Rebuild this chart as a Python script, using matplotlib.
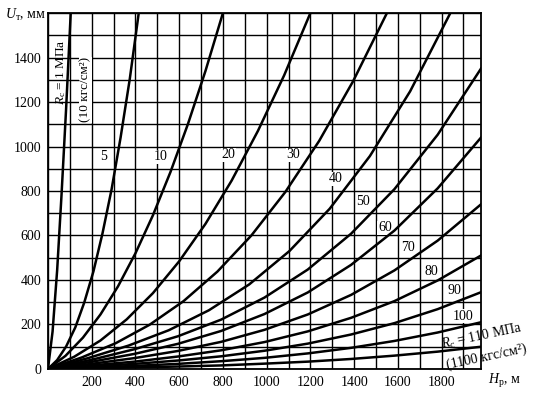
import matplotlib
matplotlib.use('Agg')
import matplotlib.pyplot as plt
from matplotlib.ticker import MultipleLocator, FuncFormatter

# values: H_p (m) -> U (mm) for every R_c curve
h_r1 = [0, 21, 42, 62, 83, 104]
u_r1 = [0, 168, 444, 783, 1171, 1600]

h_r5 = [0, 42, 83, 125, 166, 208, 249, 291, 332, 374, 415]
u_r5 = [0, 40, 101, 187, 299, 439, 608, 808, 1040, 1303, 1600]

h_r10 = [0, 80, 160, 240, 320, 400, 480, 560, 640, 720, 800]
u_r10 = [0, 59, 141, 245, 371, 520, 691, 885, 1101, 1339, 1600]

h_r20 = [0, 120, 240, 360, 480, 600, 720, 840, 960, 1080, 1200]
u_r20 = [0, 55, 128, 223, 341, 484, 652, 847, 1070, 1320, 1600]

h_r30 = [0, 155, 310, 465, 620, 775, 930, 1085, 1240, 1395, 1550]
u_r30 = [0, 52, 116, 199, 305, 438, 600, 795, 1025, 1293, 1600]

h_r40 = [0, 184, 368, 552, 736, 920, 1104, 1288, 1472, 1656, 1840]
u_r40 = [0, 49, 105, 174, 264, 380, 530, 720, 957, 1248, 1600]

h_edge = [0, 198, 396, 594, 792, 990, 1188, 1386, 1584, 1782, 1980]
u_r50 = [0, 41, 89, 147, 222, 321, 447, 608, 808, 1053, 1350]
u_r60 = [0, 32, 68, 113, 171, 247, 344, 468, 622, 812, 1040]
u_r70 = [0, 23, 49, 81, 122, 176, 245, 333, 443, 577, 740]
u_r80 = [0, 16, 33, 56, 84, 121, 169, 230, 305, 398, 510]
u_r90 = [0, 11, 23, 38, 57, 82, 114, 155, 206, 269, 345]
u_r100 = [0, 6, 14, 23, 35, 50, 70, 95, 126, 164, 210]
u_r110 = [0, 3, 7, 11, 16, 24, 33, 45, 60, 78, 100]

curves = [(h_r1, u_r1), (h_r5, u_r5), (h_r10, u_r10), (h_r20, u_r20),
          (h_r30, u_r30), (h_r40, u_r40), (h_edge, u_r50), (h_edge, u_r60),
          (h_edge, u_r70), (h_edge, u_r80), (h_edge, u_r90), (h_edge, u_r100),
          (h_edge, u_r110)]

curve_labels = ['5', '10', '20', '30', '40', '50', '60', '70', '80', '90', '100']

plt.rcParams['font.family'] = ['Liberation Serif', 'DejaVu Serif']
plt.rcParams['mathtext.fontset'] = 'custom'
plt.rcParams['mathtext.rm'] = 'Liberation Serif'
plt.rcParams['mathtext.it'] = 'Liberation Serif:italic'

fig = plt.figure(figsize=(5.33, 3.98), dpi=100)
ax = fig.add_axes([0.090, 0.0729, 0.8124, 0.8944])

for h, u in curves:
    ax.plot(h, u, color='black', lw=1.8, zorder=3)

ax.set_xlim(0, 1980)
ax.set_ylim(0, 1600)
ax.xaxis.set_major_locator(MultipleLocator(100))
ax.yaxis.set_major_locator(MultipleLocator(100))
ax.xaxis.set_major_formatter(FuncFormatter(
    lambda v, p: '%d' % v if v % 200 == 0 and 200 <= v <= 1800 else ''))
ax.yaxis.set_major_formatter(FuncFormatter(
    lambda v, p: '%d' % v if v % 200 == 0 and v <= 1400 else ''))
ax.grid(True, color='black', lw=1.0)
ax.set_axisbelow(True)
ax.tick_params(length=0, labelsize=10, pad=5)
for s in ax.spines.values():
    s.set_linewidth(1.3)
    s.set_color('black')
    s.set_zorder(4)

# curve labels (placed left of / above each curve)
label_pos = [(252, 953), (515, 953), (825, 962), (1120, 962), (1315, 854),
             (1440, 751), (1540, 634), (1647, 544), (1752, 440), (1858, 355),
             (1899, 238)]
for txt, (x, y) in zip(curve_labels, label_pos):
    ax.text(x, y, txt, fontsize=10, ha='center', va='center', zorder=2.5,
            bbox=dict(fc='white', ec='none', pad=0.3))

ax.text(62, 1335, r'$R_\mathrm{c}$ = 1 МПа', rotation=90, fontsize=9.5,
        ha='center', va='center', zorder=2.5)
ax.text(170, 1256, '(10 кгс/см²)', rotation=90, fontsize=9.5, zorder=2.5,
        ha='center', va='center', bbox=dict(fc='white', ec='none', pad=0.3))
ax.text(1982, 146, r'$R_\mathrm{c}$ = 110 МПа', rotation=12, fontsize=10,
        ha='center', va='center', clip_on=False, zorder=5)
ax.text(2005, 56, '(1100 кгс/см²)', rotation=12, fontsize=10,
        ha='center', va='center', clip_on=False, zorder=5)

ax.text(1.055, -0.034, r'$H_\mathrm{р}$, м', transform=ax.transAxes,
        fontsize=10, ha='center', va='center')
ax.text(-0.051, 0.994, r'$U_\mathrm{т}$, мм', transform=ax.transAxes,
        fontsize=10, ha='center', va='center')

fig.savefig('out.png', dpi=100)
